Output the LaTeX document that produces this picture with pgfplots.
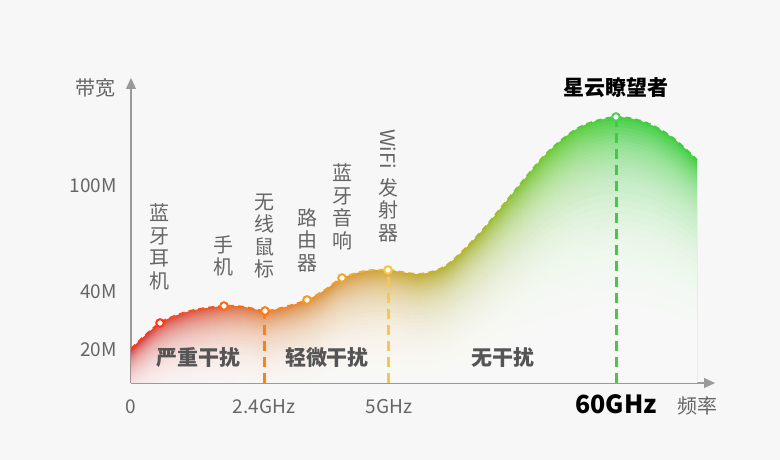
\documentclass[border=0pt]{standalone}
\usepackage{pgfplots}
\pgfplotsset{compat=1.18}
\usepackage{pgfplotstable}
\usepackage{fontspec}
\setmainfont{Noto Sans CJK SC}
\usetikzlibrary{arrows.meta}

\definecolor{bgc}{HTML}{F7F7F7}
\definecolor{txt}{HTML}{666666}
\definecolor{zone}{HTML}{555555}
\definecolor{axc}{HTML}{9A9A9A}
% fill colours, left to right
\definecolor{f0}{HTML}{D43636}
\definecolor{f1}{HTML}{DA5444}
\definecolor{f2}{HTML}{E08446}
\definecolor{f3}{HTML}{D2A640}
\definecolor{f4}{HTML}{A8BC40}
\definecolor{f5}{HTML}{70CC40}
\definecolor{f6}{HTML}{48D048}
\pgfdeclarehorizontalshading{spectrum}{100bp}{
  color(0bp)=(f0); color(25bp)=(f0); color(30bp)=(f1); color(37bp)=(f2);
  color(47.5bp)=(f3); color(56bp)=(f4); color(62bp)=(f5); color(68bp)=(f6);
  color(75bp)=(f6); color(100bp)=(f6)}
% line colours, left to right
\definecolor{s1}{HTML}{FF3A14}
\definecolor{s2}{HTML}{FF4E14}
\definecolor{s3}{HTML}{FF6A14}
\definecolor{s4}{HTML}{FA8418}
\definecolor{s5}{HTML}{F29C20}
\definecolor{s6}{HTML}{EEB430}
\definecolor{s7}{HTML}{D2B030}
\definecolor{s8}{HTML}{BDB52E}
\definecolor{s9}{HTML}{A4BA32}
\definecolor{s10}{HTML}{80C238}
\definecolor{s11}{HTML}{5CC83E}
\definecolor{s12}{HTML}{44CA44}
\definecolor{vO}{HTML}{FF7F0F}
\definecolor{vY}{HTML}{F5C84A}
\definecolor{vG}{HTML}{44C944}
\definecolor{m1}{HTML}{FF3A14}
\definecolor{m2}{HTML}{FF6A14}
\definecolor{m3}{HTML}{FF7A10}
\definecolor{m4}{HTML}{F59A20}
\definecolor{m5}{HTML}{F0AA20}
\definecolor{m6}{HTML}{F5C842}
\definecolor{m7}{HTML}{50CE50}

\newcommand\catfont{\fontsize{20}{22.5}\selectfont}
\newcommand\seg[3]{%
  \begin{scope}
    \clip (axis cs:#1,-10) rectangle (axis cs:#2,320);
    \addplot[smooth, draw=#3, line width=2pt, dash pattern=on 6pt off 4pt] table {\curve};
  \end{scope}}
% one white veil under a lowered copy of the curve
\newcommand\veil[2]{%
  \addplot[draw=none, fill=white, fill opacity=#2, smooth] table[y expr=(\thisrow{y}+80)*#1-80] {\curve} \closedcycle;}

% curve (x: px from the y axis, y: px above the x axis)
\pgfplotstableread{
x y
0 34
29 60
59 72
93 77
114 76
134 72
154 76
176 83
194 93
211 105
234 112
257 113
289 109
316 118
349 150
382 190
416 230
449 256
485 266
516 260
542 245
566 223
}\curve

\begin{document}
\begin{tikzpicture}
\path[use as bounding box, fill=bgc] (-131pt,-77pt) rectangle (649pt,383pt);
\begin{axis}[
    at={(0,0)}, anchor=south west,
    scale only axis, width=584pt, height=305pt,
    xmin=0, xmax=584, ymin=0, ymax=305,
    enlargelimits=false,
    axis lines=left,
    axis line style={draw=axc, line width=1.3pt, -{Triangle[width=10pt,length=11pt]}},
    major tick length=0pt,
    clip mode=individual,
    xtick={0,133,258,485},
    xticklabels={0,2.4GHz,5GHz,{\fontsize{25}{25}\selectfont\bfseries\color{black}60GHz}},
    xticklabel style={anchor=base, yshift=-31pt, font=\fontsize{19}{19}\selectfont, text=txt},
    ytick={33,91,197},
    yticklabels={20M,40M,100M},
    yticklabel style={anchor=east, inner sep=0pt, xshift=-14pt, font=\fontsize{19}{19}\selectfont, text=txt},
  ]
  % coloured area under the curve
  \addplot[draw=none, shade, shading=spectrum, smooth] table {\curve} \closedcycle;
  % fade towards the bottom
  \pgfplotsinvokeforeach{0.99,0.98,...,0.795}{\veil{#1}{0.067}}
  \pgfplotsinvokeforeach{0.78,0.76,...,0.235}{\veil{#1}{0.13}}
  % dashed curve, colour changing left to right
  \seg{0}{40}{s1}
  \seg{40}{90}{s2}
  \seg{90}{130}{s3}
  \seg{130}{175}{s4}
  \seg{175}{215}{s5}
  \seg{215}{260}{s6}
  \seg{260}{300}{s7}
  \seg{300}{340}{s8}
  \seg{340}{380}{s9}
  \seg{380}{420}{s10}
  \seg{420}{460}{s11}
  \seg{460}{584}{s12}
  % vertical dashed lines
  \addplot[draw=vO, line width=3pt, dash pattern=on 10pt off 6pt] coordinates {(134,0) (134,72)};
  \addplot[draw=vY, line width=3pt, dash pattern=on 10pt off 6pt] coordinates {(257,0) (257,113)};
  \addplot[draw=vG, line width=3pt, dash pattern=on 10pt off 6pt] coordinates {(485,0) (485,266)};
  % markers
  \pgfplotsset{mk/.style={only marks, mark=*, mark size=3.8pt, mark options={draw=#1, fill=white, line width=2pt, solid}}}
  \addplot[mk=m1] coordinates {(29,60)};
  \addplot[mk=m2] coordinates {(93,77)};
  \addplot[mk=m3] coordinates {(134,72)};
  \addplot[mk=m4] coordinates {(176,83)};
  \addplot[mk=m5] coordinates {(211,105)};
  \addplot[mk=m6] coordinates {(257,113)};
  \addplot[mk=m7] coordinates {(485,266)};
  % device labels
  \node[text=txt, font=\catfont, align=center] at (axis cs:29,136) {蓝\\牙\\耳\\机};
  \node[text=txt, font=\catfont, align=center] at (axis cs:93,127) {手\\机};
  \node[text=txt, font=\catfont, align=center] at (axis cs:134,147) {无\\线\\鼠\\标};
  \node[text=txt, font=\catfont, align=center] at (axis cs:176,143) {路\\由\\器};
  \node[text=txt, font=\catfont, align=center] at (axis cs:211,176) {蓝\\牙\\音\\响};
  \node[text=txt, font=\catfont, rotate=-90] at (axis cs:257,234) {WiFi};
  \node[text=txt, font=\catfont, align=center] at (axis cs:257,173) {发\\射\\器};
  % zones
  \node[text=zone, font=\fontsize{21}{21}\selectfont\bfseries] at (axis cs:68,25) {严重干扰};
  \node[text=zone, font=\fontsize{21}{21}\selectfont\bfseries] at (axis cs:196,25) {轻微干扰};
  \node[text=zone, font=\fontsize{21}{21}\selectfont\bfseries] at (axis cs:372,25) {无干扰};
  % titles
  \node[text=black, font=\fontsize{21}{21}\selectfont\bfseries] at (axis cs:485,295) {星云瞭望者};
  \node[text=txt, font=\fontsize{20}{20}\selectfont] at (axis cs:-35,295) {带宽};
  \node[text=txt, font=\fontsize{20}{20}\selectfont, anchor=base] at (axis cs:566,-31) {频率};
\end{axis}
\end{tikzpicture}
\end{document}
